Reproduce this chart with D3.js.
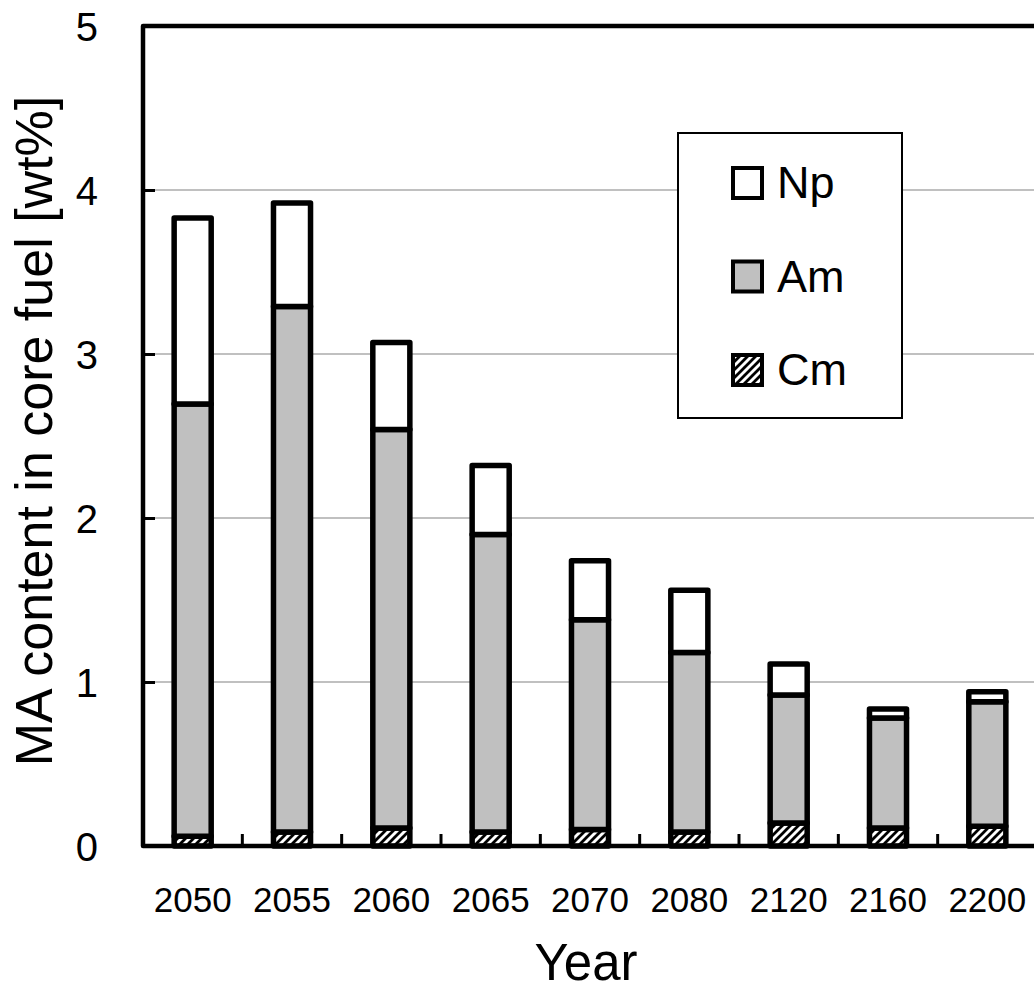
<!DOCTYPE html>
<html>
<head>
<meta charset="utf-8">
<script src="https://cdn.jsdelivr.net/npm/d3@7"></script>
<style>
  body { margin: 0; background: #fff; }
  text { font-family: "Liberation Sans", Arial, sans-serif; fill: #000; }
</style>
</head>
<body>
<script>
// values (wt%)
const years = ['2050', '2055', '2060', '2065', '2070', '2080', '2120', '2160', '2200'];
const cm = [0.06, 0.085, 0.11, 0.085, 0.10, 0.085, 0.14, 0.11, 0.12];
const am = [2.635, 3.205, 2.43, 1.815, 1.28, 1.095, 0.78, 0.67, 0.76];
const np = [1.135, 0.63, 0.53, 0.42, 0.36, 0.38, 0.19, 0.055, 0.06];
const yTicks = [0, 1, 2, 3, 4, 5];
const legendKeys = ['Np', 'Am', 'Cm'];

const width = 1034;
const height = 992;
const plotL = 143, plotR = 1037, plotT = 26, plotB = 846;

const rows = years.map((yr, i) => ({ year: yr, Cm: cm[i], Am: am[i], Np: np[i] }));
const series = d3.stack().keys(['Cm', 'Am', 'Np'])(rows);

const svg = d3.select('body')
  .append('svg')
  .attr('width', width)
  .attr('height', height);

const defs = svg.append('defs');
const hatch = defs.append('pattern')
  .attr('id', 'hatch')
  .attr('patternUnits', 'userSpaceOnUse')
  .attr('width', 8)
  .attr('height', 8);
hatch.append('rect').attr('width', 8).attr('height', 8).attr('fill', '#fff');
hatch.append('path')
  .attr('d', 'M-2,2 L2,-2 M0,8 L8,0 M6,10 L10,6')
  .attr('stroke', '#000')
  .attr('stroke-width', 2.8);

const fills = { Np: '#fff', Am: '#c0c0c0', Cm: 'url(#hatch)' };

const x = d3.scaleBand()
  .domain(years)
  .range([plotL, plotR])
  .paddingInner(0.627)
  .paddingOuter(0.3135);

const y = d3.scaleLinear()
  .domain([0, 5])
  .range([plotB, plotT]);

// grid lines
svg.append('g')
  .selectAll('line')
  .data(yTicks.slice(1, -1))
  .enter()
  .append('line')
  .attr('x1', plotL)
  .attr('x2', plotR)
  .attr('y1', d => y(d))
  .attr('y2', d => y(d))
  .attr('stroke', '#c0c0c0')
  .attr('stroke-width', 2);

// legend box (covers the grid)
const legend = svg.append('g').attr('transform', 'translate(678,133)');
legend.append('rect')
  .attr('width', 224)
  .attr('height', 285)
  .attr('fill', '#fff')
  .attr('stroke', '#000')
  .attr('stroke-width', 2);

const item = legend.selectAll('.item')
  .data(legendKeys)
  .enter()
  .append('g')
  .attr('class', 'item')
  .attr('transform', (d, i) => `translate(0,${50 + i * 93.5})`);

item.append('rect')
  .attr('x', 55)
  .attr('y', -15)
  .attr('width', 29)
  .attr('height', 30)
  .attr('fill', d => fills[d])
  .attr('stroke', '#000')
  .attr('stroke-width', 4);

item.append('text')
  .attr('x', 99)
  .attr('y', 15)
  .style('font-size', '45px')
  .text(d => d);

// bars
svg.append('g')
  .selectAll('g')
  .data(series)
  .enter()
  .append('g')
  .attr('fill', d => fills[d.key])
  .selectAll('rect')
  .data(d => d)
  .enter()
  .append('rect')
  .attr('x', d => x(d.data.year))
  .attr('width', x.bandwidth())
  .attr('y', d => y(d[1]))
  .attr('height', d => y(d[0]) - y(d[1]))
  .attr('stroke', '#000')
  .attr('stroke-width', 5.5)
  .attr('stroke-linejoin', 'round');

// frame
svg.append('rect')
  .attr('x', plotL)
  .attr('y', plotT)
  .attr('width', plotR - plotL)
  .attr('height', plotB - plotT)
  .attr('fill', 'none')
  .attr('stroke', '#000')
  .attr('stroke-width', 4.5)
  .attr('stroke-linejoin', 'round');

// y axis
const yAxis = svg.append('g')
  .attr('transform', `translate(${plotL},0)`)
  .call(d3.axisLeft(y).tickValues(yTicks).tickFormat(d3.format('d'))
    .tickSizeInner(-12).tickSizeOuter(0).tickPadding(45));
yAxis.select('.domain').remove();
yAxis.selectAll('line').attr('stroke-width', 3);
yAxis.selectAll('text')
  .attr('dy', '0.36em')
  .style('font-size', '40px')
  .style('font-family', '"Liberation Sans", Arial, sans-serif');

// x axis labels
const xAxis = svg.append('g')
  .attr('transform', `translate(0,${plotB})`)
  .call(d3.axisBottom(x).tickSize(0).tickPadding(41));
xAxis.select('.domain').remove();
xAxis.selectAll('text')
  .style('font-size', '35px')
  .style('font-family', '"Liberation Sans", Arial, sans-serif');

// tick marks between categories
svg.append('g')
  .selectAll('line')
  .data(years.slice(1))
  .enter()
  .append('line')
  .attr('x1', d => x(d) + x.bandwidth() / 2 - x.step() / 2)
  .attr('x2', d => x(d) + x.bandwidth() / 2 - x.step() / 2)
  .attr('y1', plotB)
  .attr('y2', plotB - 12)
  .attr('stroke', '#000')
  .attr('stroke-width', 3);

// axis titles
svg.append('text')
  .attr('x', 586)
  .attr('y', 980)
  .attr('text-anchor', 'middle')
  .style('font-size', '51px')
  .text('Year');

svg.append('text')
  .attr('transform', 'translate(52,431) rotate(-90)')
  .attr('text-anchor', 'middle')
  .style('font-size', '52px')
  .text('MA content in core fuel [wt%]');
</script>
</body>
</html>
